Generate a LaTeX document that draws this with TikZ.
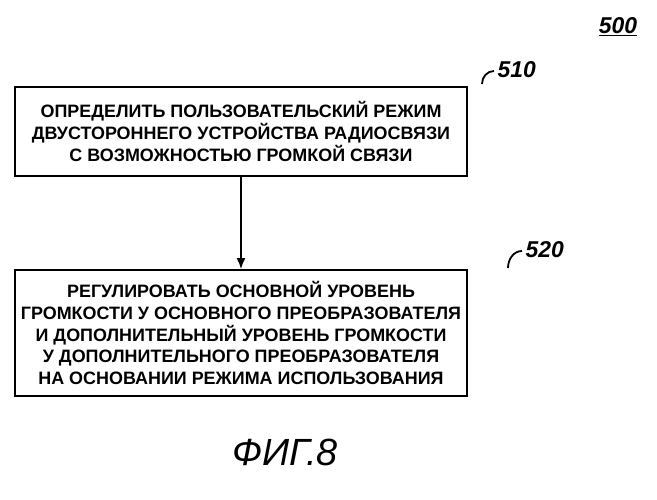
\documentclass[tikz,border=0pt]{standalone}
\usepackage{fontspec}
\setmainfont{Liberation Sans}
\usetikzlibrary{positioning,arrows.meta}
\tikzset{
  stepbox/.style={draw,line width=1.8pt,minimum width=452bp,align=center,
    font=\bfseries\fontsize{18}{22}\selectfont},
  reflabel/.style={font=\bfseries\itshape\fontsize{23}{23}\selectfont},
}
\begin{document}
\begin{tikzpicture}[x=1bp,y=-1bp]
  \useasboundingbox (0,0) rectangle (657,500);
  \node[reflabel] (fig) at (618,27) {\underline{500}};
  % boxes
  \node[stepbox,minimum height=89bp] (s510) at (241,131.5) {ОПРЕДЕЛИТЬ ПОЛЬЗОВАТЕЛЬСКИЙ РЕЖИМ\\ДВУСТОРОННЕГО УСТРОЙСТВА РАДИОСВЯЗИ\\С ВОЗМОЖНОСТЬЮ ГРОМКОЙ СВЯЗИ};
  \node[stepbox,minimum height=126bp] (s520) at (241,333) {РЕГУЛИРОВАТЬ ОСНОВНОЙ УРОВЕНЬ\\ГРОМКОСТИ У ОСНОВНОГО ПРЕОБРАЗОВАТЕЛЯ\\И ДОПОЛНИТЕЛЬНЫЙ УРОВЕНЬ ГРОМКОСТИ\\У ДОПОЛНИТЕЛЬНОГО ПРЕОБРАЗОВАТЕЛЯ\\НА ОСНОВАНИИ РЕЖИМА ИСПОЛЬЗОВАНИЯ};
  \draw[line width=1.8pt,-{Latex[length=11bp,width=9bp]}] (s510) -- (s520);
  % reference numbers
  \node[reflabel,anchor=west] (n510) at (494,70) {510};
  \node[reflabel,anchor=west] (n520) at (522,250) {520};
  \draw[line width=1.8pt] (n510.west) ++(0,1) to[out=180,in=90] (482,84);
  \draw[line width=1.8pt] (n520.west) ++(0,1) to[out=180,in=90] (508,268);
  \node[font=\itshape\fontsize{38}{38}\selectfont] (cap) at (285,452) {ФИГ.8};
\end{tikzpicture}
\end{document}
